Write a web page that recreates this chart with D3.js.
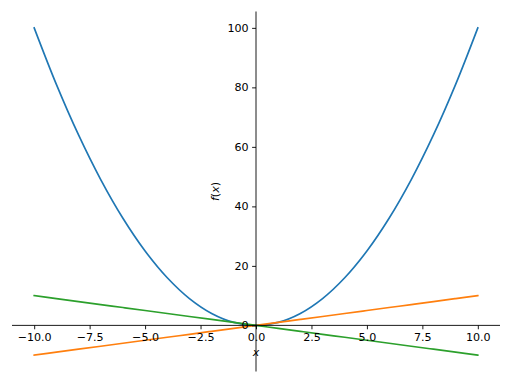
<!DOCTYPE html>
<html><head><meta charset="utf-8">
<script src="https://cdn.jsdelivr.net/npm/d3@7"></script>
<style>body{margin:0;background:#fff}svg{display:block}text{font-family:"DejaVu Sans",sans-serif}</style>
</head><body><svg id="c" width="512" height="384"></svg>
<script>
const xs = [-10,-9,-8,-7,-6,-5,-4,-3,-2,-1,0,1,2,3,4,5,6,7,8,9,10];
const sq = [100,81,64,49,36,25,16,9,4,1,0,1,4,9,16,25,36,49,64,81,100];
const lin = [-10,-9,-8,-7,-6,-5,-4,-3,-2,-1,0,1,2,3,4,5,6,7,8,9,10];
const neg = [10,9,8,7,6,5,4,3,2,1,0,-1,-2,-3,-4,-5,-6,-7,-8,-9,-10];
const xTicks = [-10,-7.5,-5,-2.5,0,2.5,5,7.5,10];
const yTicks = [0,20,40,60,80,100];
const colors = ["#1f77b4","#ff7f0e","#2ca02c"];

const svg = d3.select("#c");
const x = d3.scaleLinear().domain([-11,11]).range([12,500]);
const y = d3.scaleLinear().domain([-15.5,105.5]).range([371.5,11.5]);
const fs = 11.1;
const fmtMinus = s => s.replace("-", "\u2212");

const series = [sq, lin, neg];
const line = d3.line().x(d => x(d[0])).y(d => y(d[1])).curve(d3.curveCatmullRom.alpha(0.5));
series.forEach((s, i) => {
  svg.append("path").datum(xs.map((v, j) => [v, s[j]]))
    .attr("d", line).attr("fill", "none").attr("stroke", colors[i])
    .attr("stroke-width", 1.67).attr("stroke-linecap", "square");
});

// x axis through y=0
const xAxis = d3.axisBottom(x).tickValues(xTicks).tickSize(3.9).tickPadding(3.5)
  .tickFormat(d => fmtMinus(d3.format(".1f")(d)));
const gx = svg.append("g").attr("transform", `translate(0,${y(0)})`).call(xAxis);
gx.select(".domain").attr("d", `M${x(-11)},0H${x(11)}`).attr("stroke", "#000").attr("stroke-width", 0.9);
gx.selectAll(".tick line").attr("stroke", "#000").attr("stroke-width", 0.9);
gx.selectAll(".tick text").attr("font-size", fs).attr("fill", "#000").attr("font-family", "DejaVu Sans");

const yAxis = d3.axisLeft(y).tickValues(yTicks).tickSize(3.9).tickPadding(3.5).tickFormat(d3.format("d"));
const gy = svg.append("g").attr("transform", `translate(${x(0)},0)`).call(yAxis);
gy.select(".domain").attr("d", `M0,${y(-15.5)}V${y(105.5)}`).attr("stroke", "#000").attr("stroke-width", 0.9);
gy.selectAll(".tick line").attr("stroke", "#000").attr("stroke-width", 0.9);
gy.selectAll(".tick text").attr("font-size", fs).attr("fill", "#000").attr("font-family", "DejaVu Sans");

svg.append("text").attr("x", x(0)).attr("y", 356).attr("text-anchor", "middle")
  .attr("font-size", fs).attr("font-style", "italic").text("x");
svg.append("text").attr("transform", `translate(219,${y(45)}) rotate(-90)`).attr("text-anchor", "middle")
  .attr("font-size", fs).html('<tspan font-style="italic">f</tspan>(<tspan font-style="italic">x</tspan>)');
</script></body></html>
